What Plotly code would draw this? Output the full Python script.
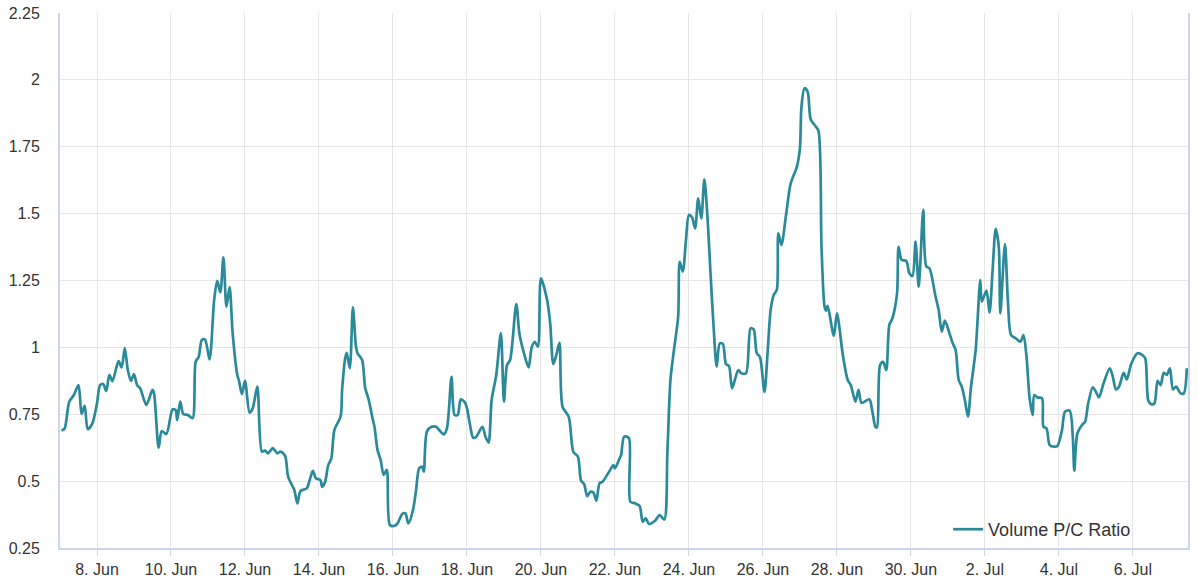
import pandas as pd
import plotly.graph_objects as go

# 数据：以 6月7日 00:00 为起点的小时偏移，以及对应的 P/C 比值
start = "2023-06-07"
hours = [
    1, 3, 6, 9, 12, 14, 16, 18, 21, 24, 26, 28, 30, 32, 34, 38, 40, 42, 44, 46,
    48, 50, 52, 56, 60, 61, 64, 66, 69, 73, 75, 76, 78, 80, 83, 86, 88, 90, 92, 94,
    97, 98, 100, 102, 104, 106, 108, 110, 112, 115, 116, 118, 120, 123, 125, 128,
    131, 133, 135, 138, 141, 143, 146, 148, 151, 152, 154, 156, 160, 162, 164, 166,
    169, 170, 172, 174, 176, 178, 182, 183, 185, 186, 188, 190, 192, 193, 196, 198,
    200, 203, 204, 206, 208, 210, 212, 214, 217, 219, 222, 224, 226, 229, 231, 233,
    235, 236, 238, 241, 244, 246, 249, 251, 254, 256, 258, 260, 263, 266, 268, 270,
    274, 276, 278, 280, 283, 286, 288, 290, 292, 296, 298, 301, 304, 306, 308, 310,
    312, 316, 318, 320, 322, 324, 326, 330, 333, 336, 338, 340, 342, 344, 346, 348,
    350, 352, 356, 359, 360, 363, 364, 366, 369, 370, 373, 376, 378, 380, 382, 386,
    389, 392, 394, 396, 398, 401, 402, 404, 406, 408, 410, 412, 414, 416, 418, 420,
    422, 424, 426, 428, 430, 432, 434, 436, 440, 442, 445, 448, 450, 452, 454, 457,
    459, 461, 463, 465, 466, 468, 471, 474, 478, 480, 481, 483, 485, 487, 490, 492,
    494, 496, 497, 498, 502, 504, 508, 511, 513, 516, 518, 520, 525, 527, 529, 530,
    532, 534, 536, 538, 540, 543, 544, 546, 549, 551, 553, 555, 557, 558, 560, 562,
    564, 568, 570, 572, 574, 577, 579, 581, 583, 585, 587, 589, 591, 594, 595, 597,
    598, 601, 603, 605, 607, 609, 610, 613, 615, 617, 620, 623, 625, 627, 629, 631,
    632, 634, 637, 638, 640, 642, 645, 647, 650, 652, 655, 657, 658, 660, 663, 665,
    667, 670, 672, 674, 677, 681, 683, 685, 687, 690, 692, 695, 699, 702, 704, 706,
    708, 710, 712, 714, 716, 718, 720, 722, 724, 727, 729, 731,
]
pc_ratio = [
    0.689, 0.697, 0.797, 0.822, 0.859, 0.751, 0.781, 0.694, 0.716, 0.791, 0.859, 0.863,
    0.837, 0.897, 0.874, 0.949, 0.925, 0.997, 0.915, 0.875, 0.900, 0.859, 0.847, 0.785,
    0.841, 0.828, 0.625, 0.687, 0.676, 0.768, 0.766, 0.728, 0.797, 0.751, 0.747, 0.735,
    0.946, 0.965, 1.028, 1.030, 0.955, 0.997, 1.177, 1.249, 1.206, 1.337, 1.152, 1.225,
    1.053, 0.897, 0.878, 0.825, 0.875, 0.756, 0.772, 0.853, 0.610, 0.614, 0.604, 0.623,
    0.604, 0.610, 0.594, 0.517, 0.479, 0.467, 0.417, 0.463, 0.473, 0.504, 0.538, 0.511,
    0.504, 0.479, 0.498, 0.560, 0.585, 0.691, 0.741, 0.841, 0.959, 0.980, 0.922, 1.150,
    1.003, 0.978, 0.953, 0.847, 0.810, 0.728, 0.703, 0.616, 0.579, 0.523, 0.542, 0.336,
    0.333, 0.342, 0.377, 0.380, 0.342, 0.392, 0.467, 0.548, 0.554, 0.535, 0.685, 0.703,
    0.703, 0.691, 0.675, 0.697, 0.890, 0.747, 0.747, 0.806, 0.791, 0.710, 0.662, 0.666,
    0.703, 0.666, 0.644, 0.803, 0.897, 1.053, 0.797, 0.934, 0.953, 1.162, 1.053, 0.978,
    0.925, 1.000, 1.021, 1.003, 1.258, 1.177, 1.090, 0.938, 0.972, 1.017, 0.778, 0.741,
    0.610, 0.591, 0.502, 0.489, 0.444, 0.460, 0.457, 0.427, 0.492, 0.498, 0.533, 0.560,
    0.548, 0.585, 0.598, 0.666, 0.662, 0.423, 0.417, 0.407, 0.348, 0.361, 0.340, 0.352,
    0.373, 0.357, 0.604, 0.878, 0.978, 1.115, 1.320, 1.283, 1.395, 1.495, 1.486, 1.445,
    1.557, 1.482, 1.628, 1.489, 1.277, 1.077, 0.928, 1.015, 1.013, 0.938, 0.930, 0.847,
    0.915, 0.903, 0.903, 1.071, 1.067, 0.978, 0.965, 0.834, 0.978, 1.140, 1.196, 1.215,
    1.426, 1.383, 1.495, 1.613, 1.675, 1.744, 1.900, 1.969, 1.956, 1.852, 1.828, 1.810,
    1.376, 1.152, 1.137, 1.155, 1.043, 1.127, 0.965, 0.878, 0.859, 0.797, 0.841, 0.793,
    0.806, 0.760, 0.703, 0.701, 0.934, 0.946, 0.915, 1.084, 1.109, 1.202, 1.376, 1.327,
    1.323, 1.277, 1.267, 1.395, 1.227, 1.302, 1.514, 1.302, 1.296, 1.189, 1.140, 1.059,
    1.100, 1.053, 1.017, 0.990, 0.878, 0.853, 0.803, 0.741, 0.853, 0.990, 1.077, 1.252,
    1.171, 1.212, 1.130, 1.289, 1.443, 1.376, 1.127, 1.386, 1.165, 1.046, 1.034, 1.021,
    1.046, 0.965, 0.810, 0.747, 0.822, 0.813, 0.810, 0.703, 0.697, 0.635, 0.629, 0.631,
    0.691, 0.760, 0.763, 0.666, 0.539, 0.679, 0.710, 0.722, 0.791, 0.851, 0.834, 0.813,
    0.866, 0.922, 0.890, 0.843, 0.853, 0.905, 0.880, 0.940, 0.978, 0.972, 0.959, 0.801,
    0.787, 0.791, 0.875, 0.859, 0.905, 0.897, 0.922, 0.843, 0.853, 0.828, 0.828, 0.922,
]
y_ticks = [0.25, 0.5, 0.75, 1, 1.25, 1.5, 1.75, 2, 2.25]

dates = pd.Timestamp(start) + pd.to_timedelta(hours, unit="h")

fig = go.Figure()
fig.add_trace(go.Scatter(
    x=dates, y=pc_ratio, mode="lines", name="Volume P/C Ratio",
    line=dict(color="#2a8a9a", width=2.7, shape="spline", smoothing=0.8),
    showlegend=True,
))

fig.update_layout(
    width=1198, height=584,
    margin=dict(l=60, r=10, t=13, b=36, autoexpand=False),
    paper_bgcolor="white", plot_bgcolor="white",
    font=dict(family="Liberation Sans, Arial, sans-serif", size=16, color="#333333"),
    legend=dict(x=0.954, y=0.0, xanchor="right", yanchor="bottom",
                bgcolor="rgba(0,0,0,0)", font=dict(size=18, color="#333333")),
)
fig.update_xaxes(
    type="date", range=["2023-06-07 00:00", "2023-07-07 11:45"],
    tick0="2023-06-08", dtick=2 * 86400000, tickformat="%-d. %b",
    showgrid=True, gridcolor="#e6e6e6", gridwidth=1,
    showline=True, linecolor="#ccd6eb", linewidth=2,
    ticks="outside", ticklen=6, tickcolor="#ccd6eb",
    ticklabelstandoff=0, automargin=False,
    zeroline=False,
)
fig.update_yaxes(
    range=[0.25, 2.25], tickvals=y_ticks,
    showgrid=True, gridcolor="#e6e6e6", gridwidth=1,
    showline=True, linecolor="#ccd6eb", linewidth=2, mirror=True,
    ticks="outside", ticklen=0, ticklabelstandoff=15, automargin=False,
    zeroline=False,
)

# 去掉页面 body 的默认 8px 边距，让图从左上角开始；不显示工具栏
fig.write_html("out.html", config={"displayModeBar": False},
               post_script="document.body.style.margin='0';")
